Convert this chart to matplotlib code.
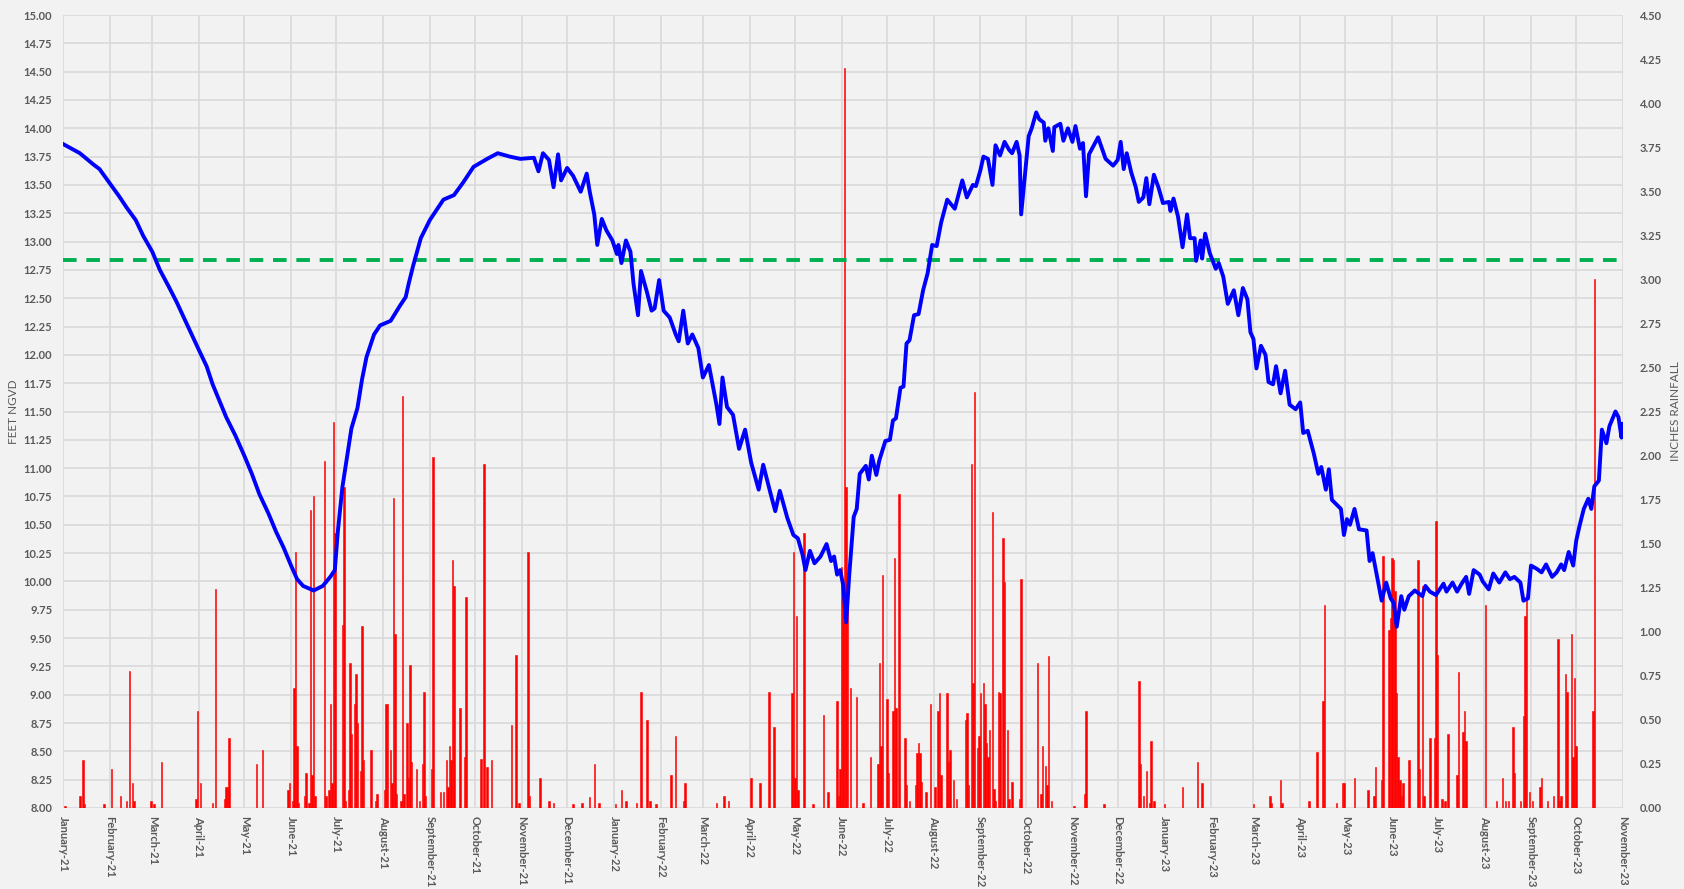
import pandas as pd
import matplotlib
matplotlib.use('Agg')
import matplotlib.pyplot as plt
import matplotlib.dates as mdates
from matplotlib.ticker import MultipleLocator, FormatStrFormatter

# water level (days since 2021-01-01, feet NGVD)
level_day = [0, 11, 20, 24, 31, 37, 42, 48, 53, 59, 64, 70, 75, 83, 90, 95, 99, 108, 114, 120, 125,
             130, 136, 141, 146, 151, 155, 159, 166, 172,
             177, 180, 182, 185, 188, 191, 195, 198, 201, 206, 210, 217, 223, 227, 229, 232, 237,
             243, 252, 259, 265, 272, 281, 288, 296, 303, 312, 315, 318, 322, 325, 328, 330, 334,
             338, 343, 347, 349, 352, 354, 357, 360, 364, 367, 368, 370, 373, 376, 378, 381, 383,
             387, 390, 392, 395, 398, 402, 406, 408, 411, 414, 417, 421, 424, 428, 433, 435, 437,
             440, 444, 448, 452, 456, 461, 464, 469, 472, 475, 480, 484, 487, 490, 492, 495, 498,
             502, 506, 509, 511, 513, 515, 517, 519, 521, 524, 526, 528, 532, 534, 536, 539, 541,
             545, 548, 550, 552, 555, 557, 559, 561, 564, 567, 570, 573, 576, 579, 582, 586, 591,
             596, 599, 603, 605, 608, 610, 613, 616, 618, 621, 624, 627, 629, 632, 634, 635, 638,
             640, 642, 645, 647, 650, 651, 653, 656, 657, 661, 663, 666, 669, 671, 674, 676, 678,
             680, 686, 691, 696, 699, 701, 703, 705, 708, 711, 713, 716, 718, 720, 723, 726, 729,
             733, 734, 736, 739, 742, 745, 747, 750, 751, 754, 755, 757, 760, 764, 766, 769, 772,
             776, 779, 782, 785, 787, 789, 791, 794, 797, 799, 802, 804, 807, 810, 813, 817, 820,
             822, 825, 829, 832, 834, 837, 839, 841, 844, 847, 849, 851, 853, 856, 859, 864, 866,
             868, 871, 874, 877, 880, 882, 884, 887, 889, 892, 896, 901, 903, 906, 910, 915, 917,
             921, 924, 927, 930, 932, 935, 939, 941, 945, 948, 952, 956, 959, 962, 966, 968, 971,
             973, 977, 980, 983, 987, 990, 993, 995, 998, 1001, 1003, 1005, 1008, 1011, 1013, 1015,
             1018, 1020, 1023, 1025, 1029, 1031, 1033, 1034]
level_ft = [13.86, 13.78, 13.68, 13.64, 13.51, 13.40, 13.30, 13.19, 13.05, 12.91, 12.75, 12.60, 12.47,
            12.24, 12.04, 11.90, 11.74, 11.45, 11.29, 11.11, 10.95, 10.77, 10.60, 10.44, 10.30,
            10.14, 10.02, 9.96, 9.92, 9.96,
            10.04, 10.10, 10.44, 10.83, 11.09, 11.35, 11.53, 11.78, 11.98, 12.18, 12.26, 12.30, 12.43,
            12.51, 12.63, 12.79, 13.03, 13.19, 13.37, 13.41, 13.52, 13.66, 13.73, 13.78, 13.75, 13.73,
            13.74, 13.62, 13.78, 13.72, 13.48, 13.77, 13.54, 13.65, 13.58, 13.44, 13.60, 13.44,
            13.24, 12.97, 13.20, 13.10, 13.01, 12.89, 12.97, 12.81, 13.01, 12.91, 12.63, 12.35, 12.74,
            12.55, 12.39, 12.41, 12.66, 12.39, 12.33, 12.18, 12.12, 12.39, 12.10, 12.18, 12.06, 11.80,
            11.91, 11.56, 11.39, 11.80, 11.54, 11.47, 11.17, 11.34, 11.05, 10.81, 11.03, 10.77, 10.62,
            10.80, 10.56, 10.41, 10.38, 10.24, 10.10, 10.27, 10.16, 10.22, 10.33, 10.18, 10.22, 10.06,
            10.10, 9.97, 9.64, 10.05, 10.57, 10.64, 10.95, 11.02, 10.90, 11.11, 10.94, 11.07, 11.24,
            11.25, 11.42, 11.44, 11.71, 11.72, 12.10, 12.13, 12.35, 12.36, 12.57, 12.72, 12.97, 12.96,
            13.17, 13.37, 13.29, 13.54, 13.39, 13.50, 13.49, 13.63, 13.75, 13.73, 13.50, 13.85, 13.76,
            13.88, 13.81, 13.78, 13.88, 13.76, 13.24, 13.65, 13.93, 14.00, 14.14, 14.08, 14.05, 13.89,
            14.00, 13.80, 14.01, 14.04, 13.89, 14.00, 13.88, 14.02, 13.82, 13.87, 13.40, 13.77, 13.92,
            13.73, 13.67, 13.72, 13.88, 13.64, 13.78, 13.61, 13.48, 13.35, 13.39, 13.56, 13.33, 13.59,
            13.48, 13.34, 13.35, 13.27, 13.38, 13.22, 12.95, 13.24, 13.03, 13.03, 12.83, 13.01, 12.85,
            13.07, 12.90, 12.76, 12.81, 12.69, 12.45, 12.57, 12.35, 12.59, 12.49, 12.20, 12.14, 11.88,
            12.08, 12.00, 11.76, 11.74, 11.90, 11.66, 11.86, 11.56, 11.52, 11.58, 11.31, 11.33, 11.13,
            10.95, 11.01, 10.81, 10.99, 10.72, 10.68, 10.64, 10.41, 10.55, 10.50, 10.64, 10.46, 10.45,
            10.18, 10.25, 10.04, 9.83, 9.99, 9.85, 9.81, 9.60, 9.87, 9.75, 9.87, 9.92, 9.87, 9.96,
            9.91, 9.88, 9.98, 9.91, 9.99, 9.91, 9.98, 10.04, 9.89, 10.10, 10.06, 10.00, 9.93, 10.07,
            9.99, 10.08, 10.02, 10.04, 9.99, 9.83, 9.85, 10.14, 10.11, 10.08, 10.15, 10.04, 10.08,
            10.15, 10.10, 10.26, 10.14, 10.36, 10.48, 10.64, 10.73, 10.64, 10.84, 10.89, 11.34, 11.22,
            11.37, 11.50, 11.45, 11.27, 11.39]

# daily rainfall (days since 2021-01-01, inches)
rain_day = [1, 11, 13, 14, 27, 32, 38, 42, 44, 46, 47, 58, 60, 65, 88, 89, 91, 99, 101, 107, 108,
            109, 110, 128, 132, 149, 150, 152, 153, 154, 155, 156, 160, 161, 163, 164, 165, 166, 167,
            173, 174, 176, 177, 178, 179, 180, 185, 186, 187, 189, 190, 191, 193, 194, 195, 197, 198,
            199, 204, 207, 208, 213, 214, 215, 217, 218, 219, 220, 221, 224, 225, 226, 228, 229, 230,
            231, 234, 236, 238, 239, 240, 244, 245, 250, 252, 254, 255, 256, 257, 258, 259, 263, 266,
            267, 277, 279, 281, 284, 297, 300, 302, 308, 309, 316, 322, 325, 338, 344, 349, 352, 355,
            366, 370, 373, 380, 383, 387, 389, 393, 403, 406, 411, 412, 433, 438, 441, 456, 462, 468,
            471, 483, 484, 485, 486, 487, 491, 497, 504, 507, 513, 514, 515, 516, 517, 518, 519, 520,
            522, 526, 530, 535, 540, 541, 542, 543, 546, 547, 550, 551, 552, 554, 558, 559, 561, 565,
            566, 567, 568, 569, 572, 575, 578, 580, 581, 582, 586, 587, 588, 590, 592, 598, 599, 600,
            602, 603, 604, 606, 607, 608, 610, 611, 612, 613, 614, 616, 617, 618, 620, 621, 623, 624,
            626, 627, 629, 634, 635, 646, 648, 649, 651, 652, 653, 655, 670, 677, 678, 690, 713, 714,
            716, 718, 720, 721, 723, 730, 742, 752, 755, 789, 800, 801, 807, 808, 826, 831, 835, 836,
            844, 848, 849, 856, 865, 869, 870, 874, 875, 879, 880, 881, 882, 883, 884, 885, 886, 887,
            888, 892, 898, 899, 901, 902, 906, 909, 910, 911, 914, 916, 918, 924, 925, 928, 929, 930,
            943, 950, 954, 956, 958, 961, 962, 966, 968, 969, 970, 972, 974, 979, 980, 984, 988, 991,
            992, 993, 996, 997, 1000, 1001, 1002, 1003, 1014, 1015]
rain_in = [0.01, 0.07, 0.27, 0.02, 0.02, 0.22, 0.07, 0.04, 0.78, 0.14, 0.04, 0.04, 0.02, 0.26, 0.05,
           0.55, 0.14, 0.03, 1.24, 0.05, 0.12, 0.12, 0.40, 0.25, 0.33, 0.10, 0.14, 0.04, 0.68, 1.45,
           0.35, 0.03, 0.07, 0.20, 0.03, 1.69, 0.19, 1.77, 0.07,
           1.97, 0.07, 0.10, 0.59, 0.14, 2.19, 1.56, 1.04, 1.82, 0.04, 0.10, 0.82, 0.42, 0.59, 0.76,
           0.48, 0.21, 1.03, 0.27, 0.33, 0.04, 0.08, 0.10, 0.59, 0.59, 0.33, 0.14, 1.76, 0.99, 0.08,
           0.04, 2.34, 0.08, 0.48, 0.17, 0.81, 0.26, 0.22, 0.04, 0.25, 0.66, 0.07, 0.22, 1.99, 0.09,
           0.09, 0.27, 0.12, 0.35, 0.27, 1.41, 1.26, 0.57, 0.29, 1.20, 0.28, 1.95, 0.23, 0.27, 0.47,
           0.87, 0.03, 1.45, 0.07, 0.17, 0.04, 0.03, 0.02, 0.03, 0.06, 0.25, 0.03,
           0.02, 0.10, 0.04, 0.03, 0.66, 0.50, 0.04, 0.02, 0.19, 0.41, 0.04, 0.14, 0.03, 0.07, 0.04,
           0.17, 0.14, 0.66, 0.46, 0.65, 1.45, 0.17, 1.09, 0.10, 1.56, 0.02, 0.53, 0.09, 0.61, 0.07,
           0.22, 1.37, 1.25, 4.20, 1.82, 1.26, 0.68, 0.63, 0.03, 0.29, 0.25, 0.82, 0.35, 1.32, 0.62,
           0.20, 0.55, 1.42, 0.57, 1.78, 0.40, 0.13, 0.04, 0.13, 0.31, 0.37, 0.31, 0.15, 0.09, 0.59,
           0.12, 0.55, 0.65, 0.19, 0.65, 0.26, 0.33, 0.16, 0.05, 0.50, 0.54, 0.13, 1.95, 0.71, 2.36,
           0.34, 0.41, 0.65, 0.71, 0.59, 0.37, 0.29, 0.44, 1.68, 0.11, 0.04, 0.66, 0.65, 1.53, 1.28,
           0.44, 0.05, 0.15, 0.05, 1.30, 0.82, 0.08, 0.35, 0.24, 0.13, 0.86, 0.04, 0.01, 0.08, 0.55,
           0.02, 0.72, 0.25, 0.07, 0.21, 0.03, 0.38, 0.04, 0.02, 0.12, 0.26, 0.14, 0.02, 0.07, 0.03,
           0.16, 0.03, 0.04, 0.32, 0.61, 1.15, 0.03, 0.14, 0.14, 0.17, 0.10, 0.07, 0.23, 0.16, 1.43,
           1.01, 1.08, 1.42, 1.41, 1.23, 0.65, 0.29, 0.16, 0.07, 0.14, 0.27, 1.41, 0.22, 1.26, 0.07,
           0.40, 0.40, 1.63, 0.87, 0.05, 0.04, 0.42, 0.19, 0.77, 0.43, 0.55, 0.38, 1.15, 0.04, 0.17,
           0.04, 0.04, 0.46, 0.20, 0.04, 0.52, 1.09, 1.21, 0.09, 0.04, 0.12, 0.17, 0.04, 0.07, 0.96,
           0.04, 0.07, 0.76, 0.66, 0.99, 0.29, 0.74, 0.35, 0.55, 3.00]

target_level = 12.84

start = pd.Timestamp('2021-01-01')
level_x = start + pd.to_timedelta(level_day, unit='D')
rain_x = start + pd.to_timedelta(rain_day, unit='D')

plt.rcParams['font.family'] = ['Lato', 'DejaVu Sans']
grey = '#595959'
bg = '#F2F2F2'

fig = plt.figure(figsize=(16.84, 8.89), dpi=100, facecolor=bg)
ax = fig.add_axes([63.3 / 1684, 1 - 808 / 889, (1623 - 63.3) / 1684, (808 - 15) / 889])
ax.set_facecolor(bg)

# left axis: grid + ticks
ax.set_ylim(8, 15)
ax.set_xlim(pd.Timestamp('2021-01-01'), pd.Timestamp('2023-11-01'))
ax.yaxis.set_major_locator(MultipleLocator(0.25))
ax.yaxis.set_major_formatter(FormatStrFormatter('%.2f'))
ax.xaxis.set_major_locator(mdates.MonthLocator())
ax.xaxis.set_major_formatter(mdates.DateFormatter('%B-%y'))
ax.grid(True, color='#D9D9D9', linewidth=1.2)
ax.set_axisbelow(True)
ax.tick_params(axis='both', length=0, labelsize=8, labelcolor=grey)
ax.tick_params(axis='y', pad=8)
ax.tick_params(axis='x', pad=6, labelrotation=-90)
for lab in ax.get_xticklabels() + ax.get_yticklabels():
    lab.set_fontweight('bold')
ax.set_ylabel('FEET NGVD', color=grey, fontsize=8.5, labelpad=3)
for s in ax.spines.values():
    s.set_visible(False)

# right axis: rainfall bars
ax2 = ax.twinx()
ax2.bar(rain_x, rain_in, width=1.0, color='#FF0000', linewidth=0.4, edgecolor='#FF0000')
ax2.set_ylim(0, 4.5)
ax2.yaxis.set_major_locator(MultipleLocator(0.25))
ax2.yaxis.set_major_formatter(FormatStrFormatter('%.2f'))
ax2.tick_params(axis='y', length=0, labelsize=8, labelcolor=grey, pad=12)
for lab in ax2.get_yticklabels():
    lab.set_fontweight('bold')
ax2.set_ylabel('INCHES RAINFALL', color=grey, fontsize=8.5, labelpad=6)
for s in ax2.spines.values():
    s.set_visible(False)

# top layer: level line and target
ax3 = ax.twinx()
ax3.set_ylim(8, 15)
ax3.axhline(target_level, color='#00B050', linewidth=2.8, linestyle=(0, (3.5, 2.5)))
ax3.plot(level_x, level_ft, color='#0000FF', linewidth=2.8)
ax3.tick_params(axis='y', right=False, labelright=False)
for s in ax3.spines.values():
    s.set_visible(False)

fig.savefig('out.png', dpi=100, facecolor=bg)
